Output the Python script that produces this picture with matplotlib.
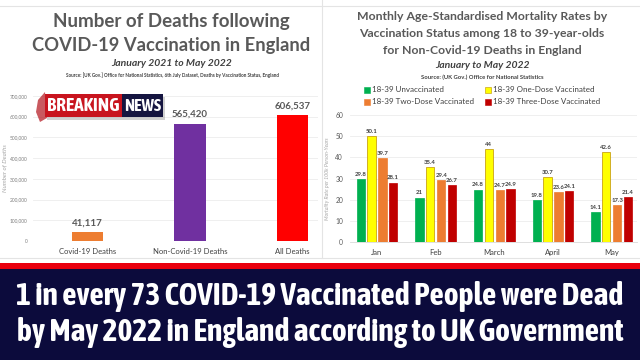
import matplotlib
matplotlib.use("Agg")
import matplotlib.pyplot as plt
from matplotlib import font_manager
from matplotlib.font_manager import FontProperties
from matplotlib.patches import Rectangle, Polygon
import numpy as np

# ---------------- data ----------------
left_categories = ["Covid-19 Deaths", "Non-Covid-19 Deaths", "All Deaths"]
left_values = [41117, 565420, 606537]
left_colors = ["#ED7D31", "#7030A0", "#FF0000"]

months = ["Jan", "Feb", "March", "April", "May"]
series_names = ["18-39 Unvaccinated", "18-39 One-Dose Vaccinated",
                "18-39 Two-Dose Vaccinated", "18-39 Three-Dose Vaccinated"]
unvaccinated = [29.8, 21, 24.8, 19.8, 14.1]
one_dose = [50.1, 35.4, 44, 30.7, 42.6]
two_dose = [39.7, 29.4, 24.7, 23.6, 17.3]
three_dose = [28.1, 26.7, 24.9, 24.1, 21.4]
series_colors = ["#00B050", "#FFFF00", "#ED7D31", "#C00000"]

headline_1 = "1 in every 73 COVID-19 Vaccinated People were Dead"
headline_2 = "by May 2022 in England according to UK Government"

# ---------------- fonts ----------------
installed = {f.name for f in font_manager.fontManager.ttflist}
def pick(*names):
    for n in names:
        if n in installed:
            return n
    return "DejaVu Sans"
BASE = pick("Lato", "Open Sans", "Noto Sans", "DejaVu Sans")
plt.rcParams["font.family"] = [BASE, "DejaVu Sans"]

def weight_num(w):
    if isinstance(w, (int, float)):
        return w
    return {"bold": 700, "heavy": 800, "black": 900, "semibold": 600, "demibold": 600,
            "extra bold": 800, "ultrabold": 800}.get(str(w).lower(), 400)

cond = []
for f in font_manager.fontManager.ttflist:
    st = str(f.stretch).lower()
    if ("condensed" in st or "narrow" in f.name.lower() or "condensed" in f.name.lower()
            or "condensed" in f.fname.lower() or "narrow" in f.fname.lower()):
        if f.style == "normal" and weight_num(f.weight) >= 600:
            cond.append(f)
if cond:
    cond.sort(key=lambda f: (abs(weight_num(f.weight) - 700), f.name))
    HEAD_FP = FontProperties(fname=cond[0].fname)
else:
    HEAD_FP = FontProperties(family=pick("Roboto", "Liberation Sans", "DejaVu Sans"), weight="bold")

W, H = 640, 360
fig = plt.figure(figsize=(6.4, 3.6), dpi=100)
fig.patch.set_facecolor("white")

def px_axes(x0, y0, x1, y1, **kw):
    return fig.add_axes([x0 / W, 1 - y1 / H, (x1 - x0) / W, (y1 - y0) / H], **kw)

def fx(x):
    return x / W

def fy(y):
    return 1 - y / H

TITLE_C = "#595959"
TEXT_C = "#404040"

# frame lines (background)
bg = px_axes(0, 0, 640, 360)
bg.set_xlim(0, W); bg.set_ylim(H, 0); bg.axis("off")
bg.plot([0, 640], [6, 6], color="#e4e4e4", lw=0.8)
bg.plot([322, 322], [0, 258], color="#e4e4e4", lw=0.8)
bg.plot([0, 640], [258, 258], color="#e4e4e4", lw=0.8)

# ---------------- left chart ----------------
fig.text(fx(171), fy(21), "Number of Deaths following", ha="center", va="center",
         fontsize=13.5, fontweight="bold", color=TITLE_C)
fig.text(fx(171), fy(45), "COVID-19 Vaccination in England", ha="center", va="center",
         fontsize=13.2, fontweight="bold", color=TITLE_C)
fig.text(fx(172), fy(64), "January 2021 to May 2022", ha="center", va="center",
         fontsize=7.5, fontweight="bold", style="italic", color=TEXT_C)
fig.text(fx(172), fy(75), "Source: [UK Gov.] Office for National Statistics, 6th July Dataset, Deaths by Vaccination Status, England",
         ha="center", va="center", fontsize=3.3, fontweight="bold", color=TEXT_C)

axl = px_axes(33, 96, 318, 241)
axl.patch.set_alpha(0)
xl = np.arange(len(left_categories))
axl.bar(xl, left_values, width=0.31, color=left_colors, zorder=3)
axl.set_xlim(-0.532, 2.25)
axl.set_ylim(0, 700000)
axl.set_yticks(np.arange(0, 700001, 100000))
axl.set_yticklabels([f"{v:,}" for v in np.arange(0, 700001, 100000)], fontsize=3.5, color="#7f7f7f")
axl.set_xticks(xl)
axl.set_xticklabels(left_categories, fontsize=5.5, color=TEXT_C)
axl.grid(axis="y", color="#ececec", lw=0.6, zorder=0)
for s in axl.spines.values():
    s.set_visible(False)
axl.tick_params(length=0, pad=4)
axl.tick_params(axis="x", pad=5)
axl.set_ylabel("Number of Deaths", fontsize=4.5, style="italic", color="#a6a6a6", labelpad=2)
for x, v in zip(xl, left_values):
    axl.text(x, v + 25000, f"{v:,}", ha="center", va="bottom", fontsize=7,
             fontweight="bold", color=TITLE_C)

# ---------------- right chart ----------------
rt = ["Monthly Age-Standardised Mortality Rates by",
      "Vaccination Status among 18 to 39-year-olds",
      "for Non-Covid-19 Deaths in England"]
for i, line in enumerate(rt):
    fig.text(fx(482), fy(17 + 16.5 * i), line, ha="center", va="center",
             fontsize=8.8, fontweight="bold", color=TITLE_C)
fig.text(fx(482), fy(65), "January to May 2022", ha="center", va="center",
         fontsize=7.5, fontweight="bold", style="italic", color=TEXT_C)
fig.text(fx(482), fy(77.5), "Source: (UK Gov.) Office for National Statistics", ha="center",
         va="center", fontsize=4.2, fontweight="bold", color=TEXT_C)

legend_pos = [(367, 90), (488, 90), (367, 102), (488, 102)]
for (lx, ly), name, col in zip(legend_pos, series_names, series_colors):
    bg.add_patch(Rectangle((lx - 2.8, ly - 2.8), 5.6, 5.6, facecolor=col,
                           edgecolor="#bf9000" if col == "#FFFF00" else col, lw=0.4))
    bg.text(lx + 5, ly, name, ha="left", va="center", fontsize=5.8, color=TEXT_C)

axr = px_axes(350, 115, 637, 242)
axr.patch.set_alpha(0)
xm = np.arange(len(months))
data = [unvaccinated, one_dose, two_dose, three_dose]
offsets = [-0.276, -0.094, 0.094, 0.276]
for vals, off, col in zip(data, offsets, series_colors):
    ec = "#bf9000" if col == "#FFFF00" else col
    axr.bar(xm + off, vals, width=0.142, color=col, edgecolor=ec, lw=0.5, zorder=3)
    for x, v in zip(xm + off, vals):
        axr.text(x, v + 1.0, f"{v:g}", ha="center", va="bottom", fontsize=4.3,
                 fontweight="bold", color=TEXT_C)
axr.set_xlim(-0.46, 4.43)
axr.set_ylim(0, 60)
axr.set_yticks(np.arange(0, 61, 10))
axr.set_yticklabels([str(v) for v in range(0, 61, 10)], fontsize=4.8, color="#595959")
axr.set_xticks(xm)
axr.set_xticklabels(months, fontsize=5.5, color=TEXT_C)
axr.grid(axis="y", color="#ececec", lw=0.6, zorder=0)
for s in axr.spines.values():
    s.set_visible(False)
axr.spines["bottom"].set_visible(True)
axr.spines["bottom"].set_color("#d9d9d9")
axr.spines["bottom"].set_linewidth(0.6)
axr.tick_params(length=0, pad=5)
axr.set_ylabel("Mortality Rate per 100k Person-Years", fontsize=3.8, style="italic",
               color="#a6a6a6", labelpad=4)

# ---------------- overlay: badge + banner ----------------
ov = px_axes(0, 0, 640, 360)
ov.set_zorder(20)
ov.patch.set_alpha(0)
ov.set_xlim(0, W); ov.set_ylim(H, 0); ov.axis("off")

ov.add_patch(Rectangle((47, 97), 118, 23, facecolor="#9a9a9a", alpha=0.45, lw=0))
ov.add_patch(Polygon([(38, 100), (45, 92), (47, 118), (40, 122), (36, 112)],
                     closed=True, facecolor="#b3121b", alpha=0.7, lw=0))
ov.add_patch(Rectangle((45, 94), 77, 23, facecolor="#c8141e", lw=0))
ov.add_patch(Rectangle((122, 94), 41, 23, facecolor="#151540", lw=0))
bk = ov.text(83.5, 106, "BREAKING", ha="center", va="center", fontsize=13,
             color="white", fontproperties=HEAD_FP)
nw = ov.text(142.5, 106, "NEWS", ha="center", va="center", fontsize=13,
             color="white", fontproperties=HEAD_FP)

ov.add_patch(Rectangle((0, 263), 640, 5.5, facecolor="#e8000e", lw=0))
ov.add_patch(Rectangle((0, 268.5), 640, 92, facecolor="#0c0b3c", lw=0))
h1 = ov.text(320, 297, headline_1, ha="center", va="center", fontsize=19,
             color="white", fontproperties=HEAD_FP)
h2 = ov.text(320, 332, headline_2, ha="center", va="center", fontsize=19,
             color="white", fontproperties=HEAD_FP)

# fit text widths
fig.canvas.draw()
r = fig.canvas.get_renderer()
def fit(t, target_w, max_h=None):
    bb = t.get_window_extent(r)
    t.set_fontsize(t.get_fontsize() * target_w / bb.width)
    if max_h is not None:
        bb = t.get_window_extent(r)
        if bb.height > max_h:
            t.set_fontsize(t.get_fontsize() * max_h / bb.height)
fit(h1, 604, 36)
fit(h2, 604, 36)
fit(bk, 72, 24)
fit(nw, 37, 24)

fig.savefig("out.png", dpi=100, facecolor="white")
